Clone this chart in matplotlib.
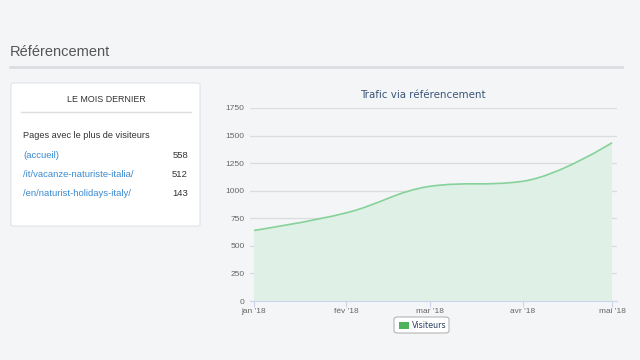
import datetime as dt
import matplotlib
matplotlib.use("Agg")
import matplotlib.pyplot as plt
from matplotlib.path import Path
from matplotlib.patches import PathPatch, FancyBboxPatch, Rectangle

# données
mois = ["2018-01-01", "2018-02-01", "2018-03-01", "2018-04-01", "2018-05-01"]
mois_labels = ["jan '18", "fév '18", "mar '18", "avr '18", "mai '18"]
visiteurs = [640, 800, 1040, 1085, 1435]
y_ticks = [0, 250, 500, 750, 1000, 1250, 1500, 1750]
pages = ["(accueil)", "/it/vacanze-naturiste-italia/", "/en/naturist-holidays-italy/"]
pages_visiteurs = [558, 512, 143]

BG = "#f4f5f7"
W, H = 640, 360

d0 = dt.date.fromisoformat(mois[0])
xs = [(dt.date.fromisoformat(m) - d0).days for m in mois]


def spline_path(x, y, smoothing=1.5):
    # courbe façon Highcharts : segments de Bézier cubiques
    n = len(x)
    ctrl = [None] * n
    for i in range(1, n - 1):
        d = smoothing + 1
        lx = (smoothing * x[i] + x[i - 1]) / d
        ly = (smoothing * y[i] + y[i - 1]) / d
        rx = (smoothing * x[i] + x[i + 1]) / d
        ry = (smoothing * y[i] + y[i + 1]) / d
        if rx != lx:
            corr = (ry - ly) * (rx - x[i]) / (rx - lx) + y[i] - ry
            ly += corr
            ry += corr
            if ly > max(y[i - 1], y[i]):
                ly = max(y[i - 1], y[i]); ry = 2 * y[i] - ly
            elif ly < min(y[i - 1], y[i]):
                ly = min(y[i - 1], y[i]); ry = 2 * y[i] - ly
            if ry > max(y[i + 1], y[i]):
                ry = max(y[i + 1], y[i]); ly = 2 * y[i] - ry
            elif ry < min(y[i + 1], y[i]):
                ry = min(y[i + 1], y[i]); ly = 2 * y[i] - ry
        ctrl[i] = (lx, ly, rx, ry)
    verts = [(x[0], y[0])]
    codes = [Path.MOVETO]
    for i in range(1, n):
        p = ctrl[i - 1]
        c1 = (p[2], p[3]) if p else (x[i - 1], y[i - 1])
        c = ctrl[i]
        c2 = (c[0], c[1]) if c else (x[i], y[i])
        verts += [c1, c2, (x[i], y[i])]
        codes += [Path.CURVE4] * 3
    return verts, codes


fig = plt.figure(figsize=(6.4, 3.6), dpi=100, facecolor=BG)
plt.rcParams["font.family"] = ["Liberation Sans", "DejaVu Sans"]


def px(x, y):
    return x / W, 1 - y / H


# en-tête
fig.text(*px(10, 52), "Référencement", fontsize=10.5, color="#555555", va="center")
fig.add_artist(plt.Line2D([10 / W, 622 / W], [1 - 67 / H] * 2, color="#dcdde0", lw=2))

# carte de gauche
x0, y0 = px(11, 226)
x1, y1 = px(200, 83)
fig.add_artist(FancyBboxPatch((x0, y0), x1 - x0, y1 - y0, boxstyle="round,pad=0,rounding_size=0.004",
                              transform=fig.transFigure, facecolor="white", edgecolor="#e2e3e6", lw=0.8))
fig.text(*px(106, 99), "LE MOIS DERNIER", fontsize=6.4, color="#333333", ha="center", va="center")
fig.add_artist(plt.Line2D([21 / W, 191 / W], [1 - 112 / H] * 2, color="#dddddd", lw=1))
fig.text(*px(23, 136), "Pages avec le plus de visiteurs", fontsize=6.6, color="#333333", va="center")
for i, (p, v) in enumerate(zip(pages, pages_visiteurs)):
    yy = 155 + i * 19.5
    fig.text(*px(23, yy), p, fontsize=6.8, color="#3a8ad0", va="center")
    fig.text(*px(188, yy), str(v), fontsize=6.8, color="#333333", va="center", ha="right")

# graphique
l, b = px(250, 301)
r, t = px(617, 108)
ax = fig.add_axes([l, b, r - l, t - b])
ax.set_facecolor(BG)
span = xs[-1] - xs[0]
dpp = span / (612 - 254)
ax.set_xlim(xs[0] - 4 * dpp, xs[-1] + 5 * dpp)
ax.set_ylim(0, 1750)

verts, codes = spline_path(xs, visiteurs)
ax.add_patch(PathPatch(Path(verts, codes), fill=False, edgecolor="#86d29a", lw=1.2, zorder=3))
fverts = verts + [(xs[-1], 0), (xs[0], 0), (xs[0], visiteurs[0])]
fcodes = codes + [Path.LINETO, Path.LINETO, Path.CLOSEPOLY]
ax.add_patch(PathPatch(Path(fverts, fcodes), facecolor="#dff0e6", edgecolor="none", zorder=2))

ax.set_yticks(y_ticks)
ax.set_yticklabels([str(v) for v in y_ticks])
ax.set_xticks(xs)
ax.set_xticklabels(mois_labels)
ax.grid(axis="y", color="#dcdcdc", lw=0.9, zorder=1)
ax.set_axisbelow(True)
for s in ["top", "right", "left"]:
    ax.spines[s].set_visible(False)
ax.spines["bottom"].set_color("#ccd6eb")
ax.tick_params(axis="y", length=0, labelsize=6, labelcolor="#666666", pad=4)
ax.tick_params(axis="x", length=4, color="#ccd6eb", labelsize=6, labelcolor="#666666", pad=1)

fig.text(*px(423, 95), "Trafic via référencement", fontsize=7.4, color="#3a5478", ha="center",
         va="center", family=["DejaVu Sans"])

# légende
lx0, ly0 = px(394, 333)
lx1, ly1 = px(449, 317)
fig.add_artist(FancyBboxPatch((lx0, ly0), lx1 - lx0, ly1 - ly0, boxstyle="round,pad=0,rounding_size=0.006",
                              transform=fig.transFigure, facecolor="white", edgecolor="#b5b5b5", lw=0.8))
sx, sy = px(399, 329)
fig.add_artist(Rectangle((sx, sy), 10 / W, 7.5 / H, transform=fig.transFigure,
                         facecolor="#4cb35a", edgecolor="none"))
fig.text(*px(412, 325), "Visiteurs", fontsize=5.8, color="#2b3f63", va="center", family=["DejaVu Sans"])

fig.savefig("out.png", dpi=100, facecolor=BG)
